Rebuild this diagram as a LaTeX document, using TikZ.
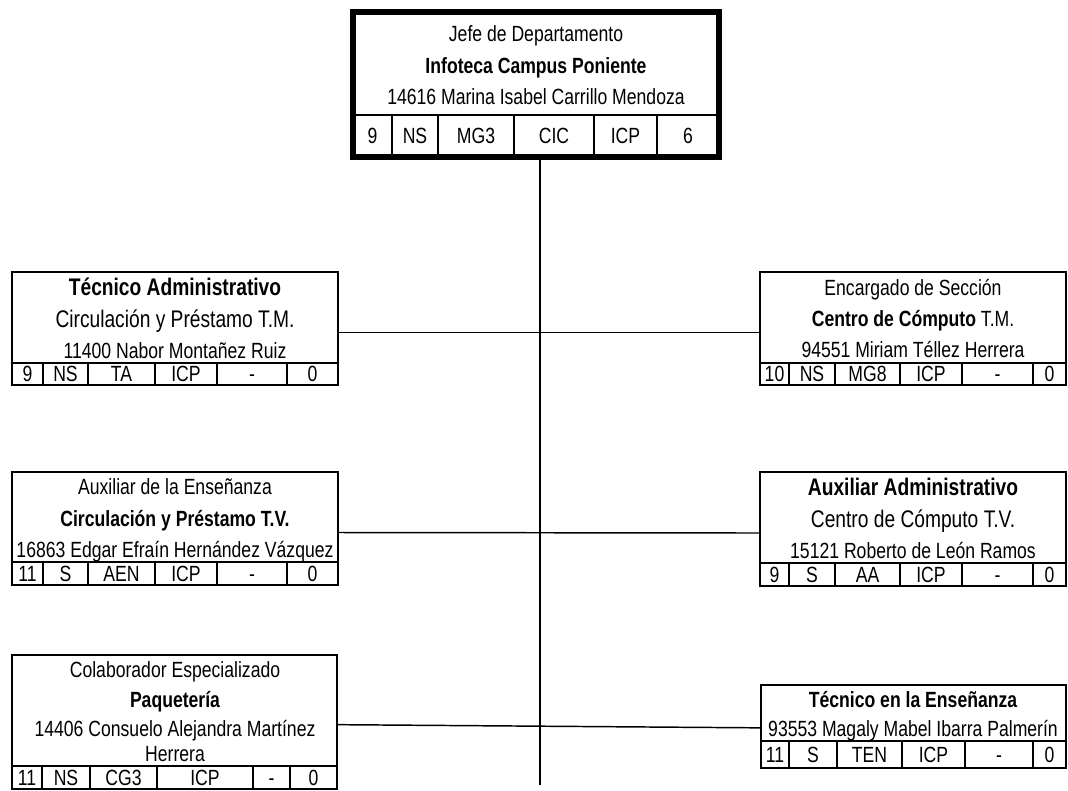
\documentclass[tikz,border=0pt]{standalone}
\usepackage{fontspec}
\setmainfont{Liberation Sans}[FakeStretch=0.80]
\usetikzlibrary{fit}
\newcommand{\tn}{\fontsize{16.5}{20}\selectfont}
\newcommand{\tg}{\fontsize{18}{22}\selectfont}
% fila de celdas: nombre, y arriba, y abajo, lista x1/x2/texto
\newcommand{\celdas}[4]{%
  \foreach \xa/\xb/\lab [count=\i] in {#4}
    \node[celda,minimum width={(\xb-\xa)*0.75pt},minimum height={(#3-#2)*0.75pt}]
      (#1-\i) at ({(\xa+\xb)/2},{(#2+#3)/2}) {\lab};
}

\begin{document}
\begin{tikzpicture}[x=0.75pt,y=-0.75pt,
  marco/.style={draw,line width=1.5pt,inner sep=0pt},
  celda/.style={draw,line width=1.2pt,inner sep=0pt,font=\tn,
                text height=11.8pt,text depth=0pt},
  lin/.style={inner sep=0pt,font=\tn,text height=11.8pt,text depth=0pt},
  conector/.style={line width=1.1pt}]
  \useasboundingbox (0,0) rectangle (1068,790);

  % jefe
  \celdas{jefe}{115}{157}{353/392/9,392/438/NS,438/514/MG3,514/594/CIC,594/657/ICP,657/719/6}
  \node[marco,line width=4pt,fit={(353,12) (719,157)}] (jefe) {};
  \node[lin] (jefe-l1) at (536,34) {Jefe de Departamento};
  \node[lin] (jefe-l2) at (536,66) {\bfseries Infoteca Campus Poniente};
  \node[lin] (jefe-l3) at (536,97) {14616 Marina Isabel Carrillo Mendoza};

  % izquierda
  \node[marco,fit={(12,272) (338,385)}] (tecadm) {};
  \node[lin,font=\tg\bfseries] (tecadm-l1) at (175,288) {Técnico Administrativo};
  \node[lin,font=\tg] (tecadm-l2) at (175,320) {Circulación y Préstamo T.M.};
  \node[lin] (tecadm-l3) at (175,351) {11400 Nabor Montañez Ruiz};
  \celdas{tecadm}{363}{385}{12/43/9,43/88/NS,88/155/TA,155/217/ICP,217/287/-,287/338/0}

  \node[marco,fit={(12,472) (338,585)}] (auxens) {};
  \node[lin] (auxens-l1) at (175,487) {Auxiliar de la Enseñanza};
  \node[lin,font=\tn\bfseries] (auxens-l2) at (175,519) {Circulación y Préstamo T.V.};
  \node[lin] (auxens-l3) at (175,550) {16863 Edgar Efraín Hernández Vázquez};
  \celdas{auxens}{562}{585}{12/43/11,43/88/S,88/155/AEN,155/217/ICP,217/287/-,287/338/0}

  \node[marco,fit={(12,655) (337,789)}] (colesp) {};
  \node[lin] (colesp-l1) at (175,670) {Colaborador Especializado};
  \node[lin,font=\tn\bfseries] (colesp-l2) at (175,700) {Paquetería};
  \node[lin] (colesp-l3) at (175,729) {14406 Consuelo Alejandra Martínez};
  \node[lin] (colesp-l4) at (175,754) {Herrera};
  \celdas{colesp}{766}{789}{12/42/11,42/90/NS,90/157/CG3,157/253/ICP,253/290/-,290/337/0}

  % derecha
  \node[marco,fit={(760,272) (1066,385)}] (encsec) {};
  \node[lin] (encsec-l1) at (913,288) {Encargado de Sección};
  \node[lin] (encsec-l2) at (913,319) {\textbf{Centro de Cómputo} T.M.};
  \node[lin] (encsec-l3) at (913,350) {94551 Miriam Téllez Herrera};
  \celdas{encsec}{363}{385}{760/789/10,789/835/NS,835/900/MG8,900/962/ICP,962/1033/-,1033/1066/0}

  \node[marco,fit={(760,472) (1066,586)}] (auxadm) {};
  \node[lin,font=\tg\bfseries] (auxadm-l1) at (913,488) {Auxiliar Administrativo};
  \node[lin,font=\tg] (auxadm-l2) at (913,520) {Centro de Cómputo T.V.};
  \node[lin] (auxadm-l3) at (913,551) {15121 Roberto de León Ramos};
  \celdas{auxadm}{563}{586}{760/789/9,789/835/S,835/900/AA,900/962/ICP,962/1033/-,1033/1066/0}

  \node[marco,fit={(761,685) (1066,768)}] (tecens) {};
  \node[lin,font=\tn\bfseries] (tecens-l1) at (913,700) {Técnico en la Enseñanza};
  \node[lin] (tecens-l2) at (913,729) {93553 Magaly Mabel Ibarra Palmerín};
  \celdas{tecens}{741}{768}{761/789/11,789/837/S,837/902/TEN,902/965/ICP,965/1033/-,1033/1066/0}

  % conectores
  \coordinate (fin) at (540,785);
  \draw[conector] (jefe.south -| fin) -- (fin);
  \draw[conector] ([yshift=-3pt]tecadm.east) -- ([yshift=-3pt]encsec.west);
  \draw[conector] ([yshift=-3pt]auxens.east) -- ([yshift=-3pt]auxadm.west);
  \draw[conector] ([yshift=-2pt]colesp.east) -- ([yshift=-1pt]tecens.west);
\end{tikzpicture}
\end{document}
